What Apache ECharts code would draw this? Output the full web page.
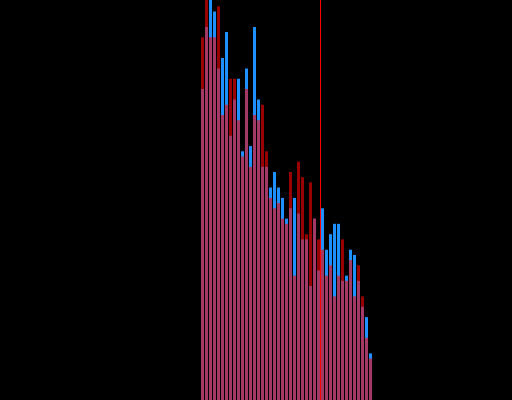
<!DOCTYPE html>
<html>
<head>
<meta charset="utf-8">
<script src="https://cdn.jsdelivr.net/npm/echarts@6/dist/echarts.min.js"></script>
<style>
html,body{margin:0;padding:0;background:#000;}
#chart{width:512px;height:400px;}
</style>
</head>
<body>
<div id="chart"></div>
<script>
// Histogram counts per bin (43 bins)
var blueCounts = [60,72,80,75,64,66,71,51,58,62,48,64,49,72,58,45,45,41,44,41,39,35,37,39,36,31,31,22,35,25,37,29,32,34,34,23,24,29,28,23,18,16,9];
var redCounts  = [70,82,70,70,76,55,57,62,62,54,47,60,45,55,54,57,48,39,37,38,35,34,44,24,46,43,32,42,35,31,29,24,26,20,24,31,23,27,20,26,20,12,8];
var markerBin = [30];
var yMax = [77.2];

function toPoints(arr){
  return arr.map(function(v,i){ return [i+0.5, v]; });
}

var chart = echarts.init(document.getElementById('chart'), null, {renderer:'canvas'});
chart.setOption({
  backgroundColor:'#000000',
  animation:false,
  grid:{left:200.5, right:139.5, top:0, bottom:0},
  xAxis:{type:'value', min:0, max:blueCounts.length,
    axisLine:{show:false}, axisTick:{show:false}, axisLabel:{show:false}, splitLine:{show:false}},
  yAxis:{type:'value', min:0, max:yMax[0],
    axisLine:{show:false}, axisTick:{show:false}, axisLabel:{show:false}, splitLine:{show:false}},
  series:[
    {type:'bar', data:toPoints(blueCounts), barWidth:3, barGap:'-100%', clip:true,
      itemStyle:{color:'#1E90FF'}},
    {type:'bar', data:toPoints(redCounts), barWidth:3, barGap:'-100%', clip:true,
      itemStyle:{color:'rgba(255,0,0,0.6)'},
      markLine:{silent:true, symbol:'none', label:{show:false},
        lineStyle:{color:'#ff0000', width:1, type:'solid'},
        data:[{xAxis:markerBin[0]}]}}
  ]
});
</script>
</body>
</html>
